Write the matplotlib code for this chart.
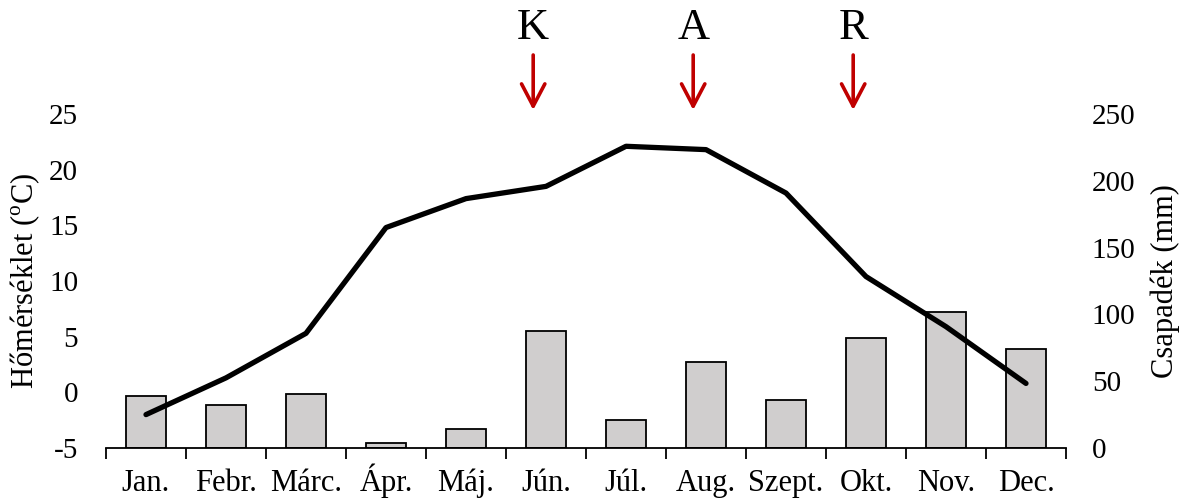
import matplotlib
matplotlib.use("Agg")
import matplotlib.pyplot as plt
import matplotlib.transforms as mtransforms
import numpy as np

plt.rcParams["font.family"] = ["Liberation Serif", "DejaVu Serif"]
plt.rcParams["mathtext.fontset"] = "custom"
plt.rcParams["mathtext.rm"] = "Liberation Serif"
plt.rcParams["axes.unicode_minus"] = False

months = ["Jan.", "Febr.", "Márc.", "Ápr.", "Máj.", "Jún.",
          "Júl.", "Aug.", "Szept.", "Okt.", "Nov.", "Dec."]
temperature = [-2.0, 1.3, 5.3, 14.8, 17.4, 18.5, 22.1, 21.8, 17.9, 10.4, 5.9, 0.8]
precipitation = [39.1, 32.2, 40.6, 4.0, 14.0, 87.6, 20.7, 64.1, 35.9, 82.1, 101.8, 74.3]
temp_ticks = [-5, 0, 5, 10, 15, 20, 25]
precip_ticks = [0, 50, 100, 150, 200, 250]
event_labels = ["K", "A", "R"]
event_pos = [4.84, 6.84, 8.84]

W, H = 1192, 501
fig = plt.figure(figsize=(W / 100, H / 100), dpi=100)
ax = fig.add_axes([106 / W, 1 - 448 / H, 960 / W, 334 / H])
ax2 = ax.twinx()

x = np.arange(len(months))

# precipitation bars on the right axis
ax2.bar(x, precipitation, width=0.49, color="#D0CECE", edgecolor="black",
        linewidth=1.3, zorder=2)
ax2.set_ylim(0, 250)
ax2.set_yticks(precip_ticks)
ax2.tick_params(axis="y", length=0, labelsize=21, pad=18.5)
ax2.set_ylabel("Csapadék (mm)", fontsize=22, va="center")
ax2.yaxis.set_label_coords(1.103, 0.5)

# temperature line on the left axis, drawn above the bars
ax.set_zorder(ax2.get_zorder() + 1)
ax.patch.set_visible(False)
ax.plot(x, temperature, color="black", linewidth=3.8,
        solid_capstyle="round", solid_joinstyle="round", zorder=3)
ax.set_ylim(-5, 25)
ax.set_yticks(temp_ticks)
ax.tick_params(axis="y", length=0, labelsize=21, pad=20)
ax.set_ylabel("Hőmérséklet ($^{\\mathrm{o}}$C)", fontsize=22, va="center")
ax.yaxis.set_label_coords(-0.0844, 0.5)

ax.set_xlim(-0.5, len(months) - 0.5)
ax.set_xticks(np.arange(-0.5, len(months)))
ax.set_xticklabels([])
ax.tick_params(axis="x", which="major", direction="out", length=8, width=1.3)

# month names share one baseline
label_trans = mtransforms.blended_transform_factory(ax.transData, fig.transFigure)
for xi, name in zip(x, months):
    fig.text(0, 0, name, fontsize=22, ha="center", va="baseline",
             transform=label_trans).set_position((xi, 1 - 491 / H))

for a in (ax, ax2):
    for side in ("left", "right", "top"):
        a.spines[side].set_visible(False)
ax2.spines["bottom"].set_visible(False)
ax.spines["bottom"].set_linewidth(1.3)

# event markers above the chart
trans = mtransforms.blended_transform_factory(ax.transData, fig.transFigure)
for lab, pos in zip(event_labels, event_pos):
    fig.text(0, 0, lab, transform=trans, fontsize=32, ha="center",
             va="center").set_position((pos, 1 - 28 / H))
    ax.annotate("", xy=(pos, 1 - 110 / H), xytext=(pos, 1 - 55 / H),
                xycoords=trans, textcoords=trans, annotation_clip=False,
                arrowprops=dict(arrowstyle="->,head_length=0.8,head_width=0.42",
                                color="#C00000", lw=2.6, mutation_scale=20,
                                shrinkA=0, shrinkB=0))

fig.savefig("out.png", dpi=100)
